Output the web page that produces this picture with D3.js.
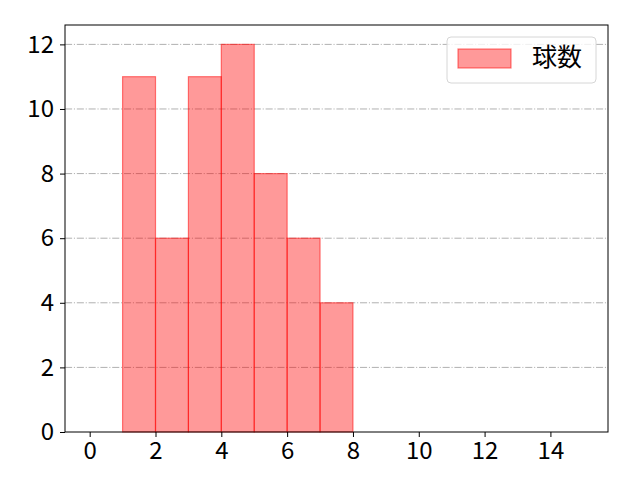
<!DOCTYPE html>
<meta charset="utf-8">
<style>
  body { margin: 0; background: #fff; }
  text { font-family: "Noto Sans CJK JP", "DejaVu Sans", sans-serif; }
</style>
<svg width="640" height="480"></svg>
<script src="https://cdn.jsdelivr.net/npm/d3@7"></script>
<script>
  // bin edges and counts
  var binStarts = [1, 2, 3, 4, 5, 6, 7];
  var counts = [11, 6, 11, 12, 8, 6, 4];
  var xTicks = [0, 2, 4, 6, 8, 10, 12, 14];
  var yTicks = [0, 2, 4, 6, 8, 10, 12];
  var seriesName = "球数";

  var svg = d3.select("svg"),
      pl = 65, pr = 608, pt = 25, pb = 432;

  var x = d3.scaleLinear().domain([-0.75, 15.75]).range([pl, pr]);
  var y = d3.scaleLinear().domain([0, 12.6]).range([pb, pt]);

  // grid
  svg.append("g").selectAll("line")
    .data(yTicks.slice(1))
    .enter().append("line")
    .attr("x1", pl).attr("x2", pr)
    .attr("y1", function(d) { return y(d); })
    .attr("y2", function(d) { return y(d); })
    .attr("stroke", "#b0b0b0")
    .attr("stroke-width", 1)
    .attr("stroke-dasharray", "7.1,1.8,1.1,1.8");

  // bars
  svg.append("g").selectAll("rect")
    .data(binStarts)
    .enter().append("rect")
    .attr("x", function(d) { return x(d); })
    .attr("width", function(d) { return x(d + 1) - x(d); })
    .attr("y", function(d, i) { return y(counts[i]); })
    .attr("height", function(d, i) { return pb - y(counts[i]); })
    .attr("fill", "rgba(255,0,0,0.4)")
    .attr("stroke", "rgba(255,0,0,0.5)")
    .attr("stroke-width", 1.2);

  // axes
  var xAxis = svg.append("g")
    .attr("transform", "translate(0," + pb + ")")
    .call(d3.axisBottom(x).tickValues(xTicks).tickSize(5).tickPadding(5));
  var yAxis = svg.append("g")
    .attr("transform", "translate(" + pl + ",0)")
    .call(d3.axisLeft(y).tickValues(yTicks).tickSize(5).tickPadding(6));
  [xAxis, yAxis].forEach(function(a) {
    a.select(".domain").remove();
    a.selectAll("text").attr("font-size", 24).attr("fill", "#000")
      .style("font-family", "'Noto Sans CJK JP', sans-serif");
    a.selectAll("line").attr("stroke", "#000").attr("stroke-width", 1);
  });

  // frame
  svg.append("rect")
    .attr("x", pl).attr("y", pt)
    .attr("width", pr - pl).attr("height", pb - pt)
    .attr("fill", "none").attr("stroke", "#000").attr("stroke-width", 1);

  // legend
  var lg = svg.append("g").attr("transform", "translate(447,37)");
  lg.append("rect")
    .attr("width", 149).attr("height", 46).attr("rx", 4)
    .attr("fill", "rgba(255,255,255,0.8)")
    .attr("stroke", "#d6d6d6").attr("stroke-width", 1);
  lg.append("rect")
    .attr("x", 11).attr("y", 12).attr("width", 53).attr("height", 19)
    .attr("fill", "rgba(255,0,0,0.4)")
    .attr("stroke", "rgba(255,0,0,0.5)").attr("stroke-width", 1.2);
  lg.append("text")
    .attr("x", 85).attr("y", 29)
    .attr("font-size", 25)
    .text(seriesName);
</script>
